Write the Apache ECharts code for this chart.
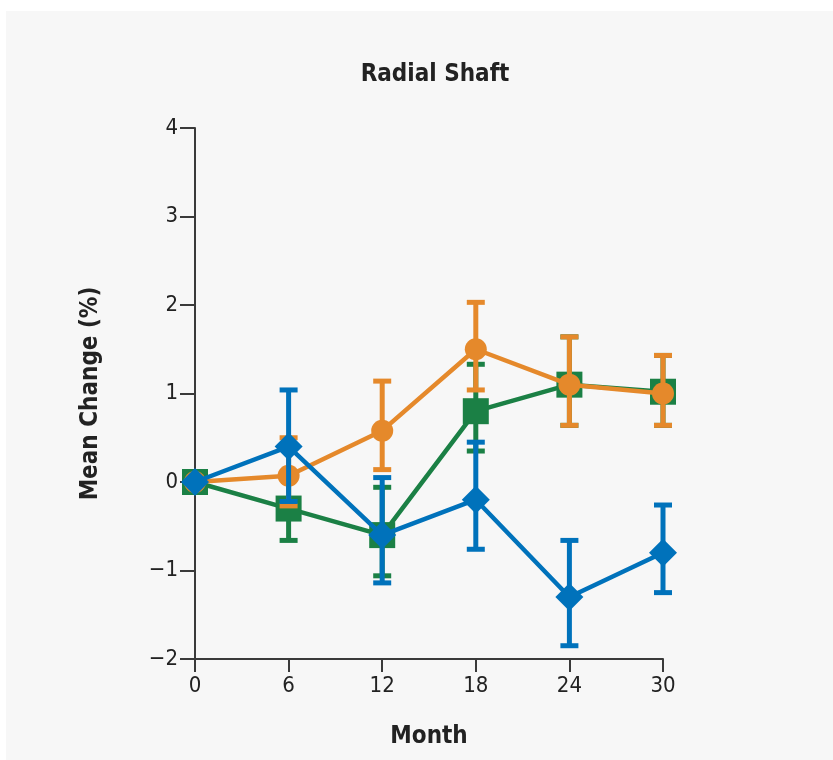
<!DOCTYPE html>
<html>
<head>
<meta charset="utf-8">
<script src="https://cdn.jsdelivr.net/npm/echarts@6/dist/echarts.min.js"></script>
<style>
  html, body { margin: 0; padding: 0; background: #ffffff; }
  #wrap { position: absolute; left: 6px; top: 11px; width: 827px; height: 749px; background: #f7f7f7; }
  #chart { position: absolute; left: 0; top: 0; width: 833px; height: 760px; }
</style>
</head>
<body>
<div id="wrap"></div>
<div id="chart"></div>
<script>
// Months of follow-up
const months = [0, 6, 12, 18, 24, 30];

// Mean percent change at the radial shaft, with error-bar limits
const orangeMean = [0, 0.07, 0.58, 1.5, 1.1, 1.0];
const orangeLow  = [0, -0.27, 0.14, 1.04, 0.64, 0.64];
const orangeHigh = [0, 0.5, 1.14, 2.03, 1.64, 1.43];

const greenMean = [0, -0.3, -0.6, 0.8, 1.1, 1.02];
const greenLow  = [0, -0.66, -1.06, 0.35, 0.64, 0.64];
const greenHigh = [0, 0.06, -0.06, 1.33, 1.64, 1.43];

const blueMean = [0, 0.4, -0.6, -0.2, -1.3, -0.8];
const blueLow  = [0, -0.22, -1.14, -0.76, -1.85, -1.25];
const blueHigh = [0, 1.04, 0.05, 0.45, -0.66, -0.26];

const yTicks = [-2, -1, 0, 1, 2, 3, 4];

const ORANGE = '#E5892B';
const GREEN = '#1B8045';
const BLUE = '#0072BB';
const AXIS = '#3a3a3a';
const FONT = "'Liberation Sans Narrow', 'DejaVu Sans Condensed', 'Open Sans', sans-serif";

function lineData(mean) {
  return months.map((m, i) => [m, mean[i]]);
}
function errData(low, high) {
  return months.map((m, i) => [m, low[i], high[i]]).filter(d => d[1] !== d[2]);
}
function errorSeries(name, low, high, color, z) {
  return {
    name: name + ' error',
    type: 'custom',
    z: z,
    data: errData(low, high),
    renderItem: function (params, api) {
      const x = api.value(0);
      const lo = api.coord([x, api.value(1)]);
      const hi = api.coord([x, api.value(2)]);
      const half = 9;
      const style = { stroke: color, lineWidth: 5 };
      return {
        type: 'group',
        children: [
          { type: 'line', shape: { x1: lo[0], y1: lo[1], x2: hi[0], y2: hi[1] }, style: style },
          { type: 'line', shape: { x1: lo[0] - half, y1: lo[1], x2: lo[0] + half, y2: lo[1] }, style: style },
          { type: 'line', shape: { x1: hi[0] - half, y1: hi[1], x2: hi[0] + half, y2: hi[1] }, style: style }
        ]
      };
    }
  };
}
function meanSeries(name, mean, color, symbol, size, z) {
  return {
    name: name,
    type: 'line',
    z: z,
    data: lineData(mean),
    symbol: symbol,
    symbolSize: size,
    showAllSymbol: true,
    lineStyle: { color: color, width: 4.5 },
    itemStyle: { color: color, borderWidth: 0 },
    emphasis: { disabled: true },
    animation: false
  };
}

const chart = echarts.init(document.getElementById('chart'), null, { renderer: 'canvas' });
chart.setOption({
  backgroundColor: 'transparent',
  animation: false,
  title: {
    text: 'Radial Shaft',
    left: 430,
    top: 58,
    textAlign: 'center',
    textStyle: { fontFamily: FONT, fontWeight: 'bold', fontSize: 24, color: '#222' }
  },
  grid: { left: 195, right: 170, top: 128, bottom: 101, containLabel: false },
  xAxis: {
    type: 'value',
    min: 0, max: 30, interval: 6,
    name: 'Month',
    nameLocation: 'middle',
    nameGap: 66,
    nameTextStyle: { fontFamily: FONT, fontWeight: 'bold', fontSize: 24, color: '#222' },
    axisLine: { show: true, onZero: false, lineStyle: { color: AXIS, width: 2 } },
    axisTick: { show: true, length: 13, lineStyle: { color: AXIS, width: 2 } },
    axisLabel: { margin: 16, fontFamily: FONT, fontSize: 22, color: '#222' },
    splitLine: { show: false }
  },
  yAxis: {
    type: 'value',
    min: yTicks[0], max: yTicks[yTicks.length - 1], interval: 1,
    name: 'Mean Change (%)',
    nameLocation: 'middle',
    nameGap: 92,
    nameRotate: 90,
    nameTextStyle: { fontFamily: FONT, fontWeight: 'bold', fontSize: 24, color: '#222' },
    axisLine: { show: true, onZero: false, lineStyle: { color: AXIS, width: 2 } },
    axisTick: { show: true, length: 15, lineStyle: { color: AXIS, width: 2 } },
    axisLabel: {
      margin: 17, fontFamily: FONT, fontSize: 22, color: '#222',
      formatter: v => (v < 0 ? '\u2212' + Math.abs(v) : String(v))
    },
    splitLine: { show: false }
  },
  series: [
    errorSeries('Green', greenLow, greenHigh, GREEN, 2),
    meanSeries('Green', greenMean, GREEN, 'rect', 26, 3),
    errorSeries('Orange', orangeLow, orangeHigh, ORANGE, 4),
    meanSeries('Orange', orangeMean, ORANGE, 'circle', 22, 5),
    errorSeries('Blue', blueLow, blueHigh, BLUE, 6),
    meanSeries('Blue', blueMean, BLUE, 'diamond', 28, 7)
  ]
});
</script>
</body>
</html>
